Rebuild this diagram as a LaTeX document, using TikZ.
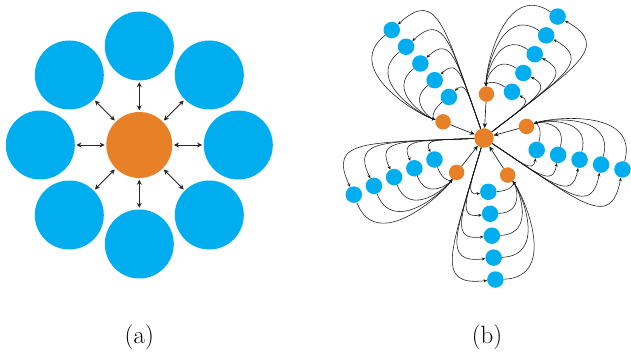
\documentclass[tikz,border=0pt]{standalone}
\usetikzlibrary{arrows.meta}
\definecolor{nblue}{RGB}{0,174,239}
\definecolor{norange}{RGB}{231,128,38}
\begin{document}
\begin{tikzpicture}[x=1pt,y=-1pt,
  bluebig/.style={circle,fill=nblue,minimum size=69pt,inner sep=0pt},
  orangebig/.style={circle,fill=norange,minimum size=66pt,inner sep=0pt},
  dbl/.style={{Stealth[length=5pt,width=5pt]}-{Stealth[length=5pt,width=5pt]},line width=0.9pt,draw=black!85,shorten >=1.5pt,shorten <=1.5pt},
  bluesm/.style={circle,fill=nblue,minimum size=16.5pt,inner sep=0pt},
  orangesm/.style={circle,fill=norange,minimum size=15.5pt,inner sep=0pt},
  orangemid/.style={circle,fill=norange,minimum size=19.5pt,inner sep=0pt},
  arcedge/.style={-{Stealth[length=3.5pt,width=3pt]},line width=0.55pt,draw=black!90},
  feed/.style={-{Stealth[length=5pt,width=4.5pt]},line width=0.65pt,draw=black!90},
  lbl/.style={font=\fontsize{25}{30}\selectfont,anchor=base,inner sep=0pt}
]
\useasboundingbox (0,0) rectangle (631,358);
% ---------- (a)
\node[orangebig] (ac) at (139.3,145) {};
\begin{scope}[shift={(139.3,145)}]
\foreach \k in {0,...,7} {
  \node[bluebig] (ab\k) at (\k*45:99) {};
  \draw[dbl] (ac) -- (ab\k);
}
\end{scope}
% ---------- (b)
\node[orangemid] (c) at (484,138) {};
\foreach \th [count=\k] in {12.8,85.4,156.5,229.5,301.2} {
  \begin{scope}[shift={(484,138)},rotate=-\th]
    \node[orangesm] (o\k) at (-28:44) {};
    \foreach \i in {1,...,5} {
      \pgfmathsetmacro\r{54+22*(\i-1)}
      \node[bluesm] (b\k-\i) at (\r,0) {};
    }
  \end{scope}
}
\foreach \th [count=\k] in {12.8,85.4,156.5,229.5,301.2} {
  \begin{scope}[shift={(484,138)},rotate=-\th]
    \draw[feed] (o\k) -- (c);
    \foreach \i in {1,...,5} {
      \pgfmathsetmacro\r{54+22*(\i-1)}
      \pgfmathsetmacro\ua{0.775*\r}
      \pgfmathsetmacro\va{0.296*\r}
      \pgfmathsetmacro\ub{\r+2}
      \pgfmathsetmacro\vb{0.437*\r}
      \draw[arcedge] (c) .. controls (\ua,\va) and (\ub,\vb) .. (b\k-\i);
      \pgfmathsetmacro\uc{1.02*\r}
      \pgfmathsetmacro\vc{-0.45*\r}
      \pgfmathsetmacro\ud{38.85+0.15*\r}
      \pgfmathsetmacro\vd{-20.66-0.1*\r}
      \draw[arcedge] (b\k-\i) .. controls (\uc,\vc) and (\ud,\vd) .. (o\k);
    }
  \end{scope}
}
% ---------- labels
\node[lbl] (la) at (139.3,343.7) {(a)};
\node[lbl] (lb) at (487,343.7) {(b)};
\end{tikzpicture}
\end{document}
